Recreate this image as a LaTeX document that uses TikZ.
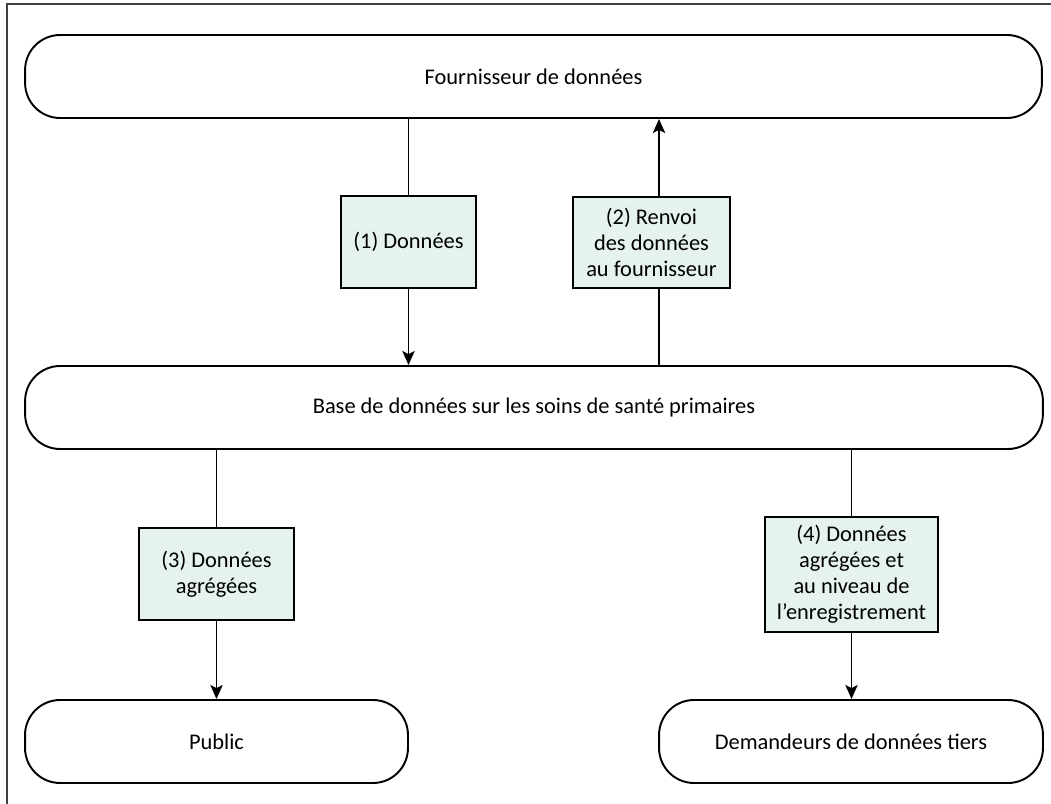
\documentclass[tikz,border=0pt]{standalone}
\usepackage{fontspec}
\setmainfont{Carlito}
\usetikzlibrary{arrows.meta}
\definecolor{lblfill}{RGB}{230,242,240}
\begin{document}
\begin{tikzpicture}[x=0.02cm,y=-0.02cm,
  endbox/.style={draw,line width=1.1pt,rounded corners=0.7cm,minimum height=1.66cm,inner sep=0pt,font=\fontsize{12.75}{14.8}\selectfont},
  lblbox/.style={draw,line width=1.1pt,fill=lblfill,inner sep=0pt,align=center,font=\fontsize{12.75}{14.8}\selectfont},
  flow/.style={line width=1.05pt},
  >={Stealth[length=8pt,width=7pt,inset=1.8pt]}]
\useasboundingbox (0,0) rectangle (1051,804);
\draw[line width=0.7pt,black!75] (1051,4) -- (7,4) -- (7,804);

\node [endbox,minimum width=20.34cm] (0) at (533.5,76.5) {Fournisseur de données};
\node [endbox,minimum width=20.36cm] (1) at (534,407.5) {Base de données sur les soins de santé primaires};
\node [endbox,minimum width=7.66cm] (2) at (216.5,741.5) {Public};
\node [endbox,minimum width=7.68cm] (3) at (851,741.5) {Demandeurs de données tiers};

\node [lblbox,minimum width=2.7cm,minimum height=1.84cm] (4) at (408.5,242) {(1) Données};
\node [lblbox,minimum width=3.14cm,minimum height=1.82cm] (5) at (651.5,242.5) {(2) Renvoi\\des données\\au fournisseur};
\node [lblbox,minimum width=3.1cm,minimum height=1.84cm] (6) at (216.5,574) {(3) Données\\agrégées};
\node [lblbox,minimum width=3.46cm,minimum height=2.3cm] (7) at (851.5,574.5) {(4) Données\\agrégées et\\au niveau de\\l’enregistrement};

\draw [flow] (4.north |- 0.south) -- (4.north);
\draw [flow,->] (4.south) -- (4.south |- 1.north);
\draw [flow] ([xshift=0.15cm]5.south |- 1.north) -- ([xshift=0.15cm]5.south);
\draw [flow,->] ([xshift=0.15cm]5.north) -- ([xshift=0.15cm]5.north |- 0.south);
\draw [flow] (6.north |- 1.south) -- (6.north);
\draw [flow,->] (6.south) -- (6.south |- 2.north);
\draw [flow] (7.north |- 1.south) -- (7.north);
\draw [flow,->] (7.south) -- (7.south |- 3.north);
\end{tikzpicture}
\end{document}
